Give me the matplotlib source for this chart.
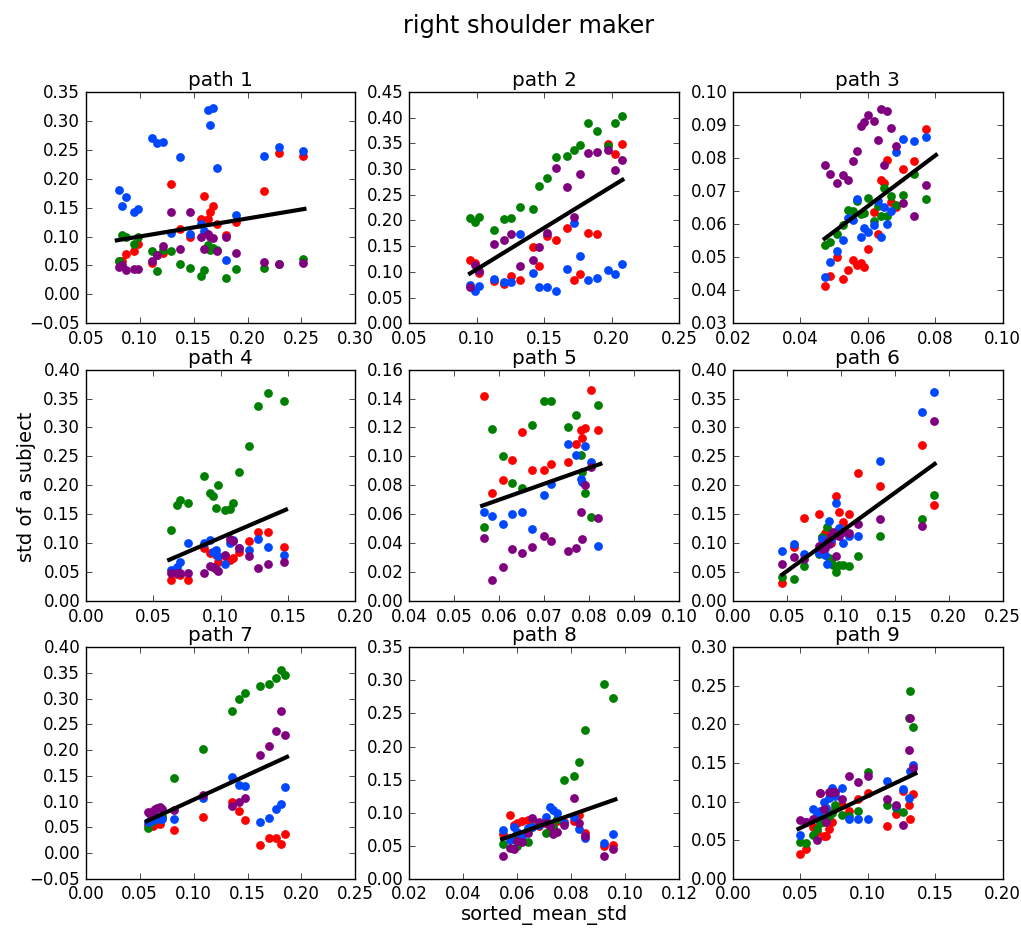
import numpy as np
import matplotlib
matplotlib.use("Agg")
import matplotlib.pyplot as plt

plt.style.use("classic")

# colours of the four series
c_red = "#ff0000"
c_green = "#008000"
c_blue = "#0048ff"
c_purple = "#800080"

# ---- path 1
p1_x = [0.0806, 0.084, 0.0877, 0.0946, 0.0986, 0.111, 0.116, 0.122, 0.129, 0.137, 0.147,
        0.157, 0.160, 0.163, 0.165, 0.168, 0.1716, 0.1796, 0.1895, 0.215, 0.229, 0.2517]
p1_blue = [0.181, 0.153, 0.169, 0.143, 0.148, 0.271, 0.261, 0.264, 0.106, 0.237, 0.104,
           0.122, 0.109, 0.319, 0.293, 0.323, 0.219, 0.060, 0.138, 0.239, 0.255, 0.248]
p1_red = [0.058, 0.057, 0.069, 0.075, 0.087, 0.054, 0.068, 0.072, 0.190, 0.113, 0.099,
          0.131, 0.170, 0.130, 0.143, 0.152, 0.121, 0.102, 0.125, 0.178, 0.244, 0.240]
p1_green = [0.058, 0.103, 0.100, 0.087, 0.100, 0.075, 0.040, 0.076, 0.075, 0.052, 0.046,
            0.032, 0.042, 0.085, 0.077, 0.081, 0.077, 0.028, 0.044, 0.046, 0.052, 0.062]
p1_purple = [0.047, 0.051, 0.043, 0.044, 0.044, 0.058, 0.068, 0.084, 0.143, 0.079, 0.143,
             0.100, 0.078, 0.104, 0.100, 0.097, 0.075, 0.100, 0.072, 0.056, 0.052, 0.054]
p1_fit_x = [0.0788, 0.2527]
p1_fit_y = [0.0935, 0.1477]

# ---- path 2
p2_x = [0.095, 0.0985, 0.1015, 0.1126, 0.1205, 0.1255, 0.1317, 0.1416, 0.146, 0.152,
        0.159, 0.1666, 0.1718, 0.1765, 0.1824, 0.189, 0.1975, 0.2027, 0.2074]
p2_blue = [0.075, 0.063, 0.072, 0.086, 0.081, 0.081, 0.174, 0.097, 0.070, 0.071,
           0.063, 0.106, 0.195, 0.130, 0.084, 0.089, 0.103, 0.096, 0.115]
p2_red = [0.124, 0.117, 0.098, 0.082, 0.077, 0.093, 0.084, 0.149, 0.112, 0.170,
          0.162, 0.185, 0.085, 0.095, 0.175, 0.173, 0.348, 0.329, 0.349]
p2_green = [0.205, 0.197, 0.206, 0.182, 0.202, 0.204, 0.226, 0.223, 0.267, 0.282,
            0.324, 0.326, 0.338, 0.346, 0.390, 0.374, 0.345, 0.390, 0.403]
p2_purple = [0.070, 0.113, 0.101, 0.154, 0.162, 0.173, 0.111, 0.124, 0.148, 0.176,
             0.302, 0.265, 0.206, 0.290, 0.331, 0.333, 0.337, 0.299, 0.317]
p2_fit_x = [0.095, 0.208]
p2_fit_y = [0.097, 0.279]

# ---- path 3
p3_x = [0.0474, 0.0488, 0.0508, 0.0525, 0.0541, 0.0557, 0.0567, 0.0581, 0.0590, 0.0601,
        0.0618, 0.0629, 0.0638, 0.0648, 0.0657, 0.0670, 0.0684, 0.0704, 0.0738, 0.0773]
p3_blue = [0.0439, 0.0486, 0.0520, 0.0551, 0.0619, 0.0613, 0.0676, 0.0562, 0.0589, 0.0577,
           0.0597, 0.0671, 0.0561, 0.0652, 0.0599, 0.0640, 0.0819, 0.0857, 0.0851, 0.0864]
p3_red = [0.0413, 0.0444, 0.0502, 0.0435, 0.0461, 0.0493, 0.0475, 0.0483, 0.0469, 0.0524,
          0.0637, 0.0569, 0.0734, 0.0723, 0.0795, 0.0668, 0.0652, 0.0768, 0.0791, 0.0888]
p3_green = [0.0537, 0.0547, 0.0570, 0.0596, 0.0642, 0.0639, 0.0671, 0.0632, 0.0635, 0.0680,
            0.0610, 0.0655, 0.0624, 0.0708, 0.0624, 0.0685, 0.0657, 0.0688, 0.0752, 0.0676]
p3_purple = [0.0778, 0.0751, 0.0724, 0.0749, 0.0735, 0.0790, 0.0821, 0.0897, 0.0909, 0.0930,
             0.0912, 0.0854, 0.0948, 0.0780, 0.0942, 0.0892, 0.0836, 0.0665, 0.0626, 0.0717]
p3_fit_x = [0.0472, 0.0802]
p3_fit_y = [0.0556, 0.0809]

# ---- path 4
p4_x = [0.0632, 0.0674, 0.0701, 0.0758, 0.0877, 0.0924, 0.0944, 0.0967, 0.0979, 0.1029,
        0.1073, 0.1091, 0.1135, 0.121, 0.128, 0.1354, 0.1473]
p4_blue = [0.053, 0.059, 0.067, 0.101, 0.100, 0.105, 0.084, 0.089, 0.077, 0.064,
           0.100, 0.106, 0.092, 0.089, 0.107, 0.093, 0.079]
p4_red = [0.036, 0.046, 0.045, 0.036, 0.092, 0.083, 0.085, 0.080, 0.067, 0.077,
          0.071, 0.075, 0.085, 0.104, 0.120, 0.120, 0.093]
p4_green = [0.1235, 0.166, 0.174, 0.169, 0.216, 0.186, 0.181, 0.161, 0.200, 0.157,
            0.159, 0.169, 0.223, 0.268, 0.337, 0.359, 0.345]
p4_purple = [0.048, 0.048, 0.048, 0.049, 0.049, 0.061, 0.058, 0.055, 0.052, 0.080,
             0.107, 0.104, 0.092, 0.077, 0.057, 0.064, 0.067]
p4_fit_x = [0.0619, 0.1485]
p4_fit_y = [0.0713, 0.158]

# ---- path 5
p5_x = [0.0565, 0.0583, 0.0609, 0.0629, 0.0650, 0.0673, 0.0700, 0.0716, 0.0753, 0.0771,
        0.0781, 0.0785, 0.0791, 0.0805, 0.0820]
p5_blue = [0.0613, 0.0587, 0.053, 0.0603, 0.0615, 0.0497, 0.0733, 0.081, 0.1087, 0.101,
           0.0844, 0.082, 0.1075, 0.096, 0.038]
p5_red = [0.1415, 0.0745, 0.0835, 0.0973, 0.117, 0.0906, 0.0906, 0.0948, 0.096, 0.1087,
          0.118, 0.113, 0.1195, 0.146, 0.118]
p5_green = [0.0513, 0.119, 0.100, 0.0816, 0.078, 0.122, 0.1385, 0.1385, 0.120, 0.1285,
            0.1008, 0.0895, 0.075, 0.0583, 0.1353]
p5_purple = [0.0439, 0.0143, 0.0238, 0.0363, 0.0333, 0.0372, 0.0449, 0.0418, 0.0345, 0.0368,
             0.0617, 0.0428, 0.080, 0.093, 0.0576]
p5_fit_x = [0.0562, 0.0825]
p5_fit_y = [0.0659, 0.0948]

# ---- path 6
p6_x = [0.0458, 0.0569, 0.0655, 0.0794, 0.0830, 0.0850, 0.0870, 0.0890, 0.0910, 0.0930,
        0.0957, 0.0985, 0.1018, 0.1077, 0.1157, 0.136, 0.1754, 0.1865]
p6_blue = [0.086, 0.099, 0.082, 0.083, 0.107, 0.080, 0.064, 0.138, 0.105, 0.118,
           0.169, 0.127, 0.101, 0.112, 0.112, 0.242, 0.327, 0.362]
p6_red = [0.032, 0.094, 0.144, 0.150, 0.110, 0.117, 0.121, 0.105, 0.100, 0.112,
          0.182, 0.154, 0.137, 0.151, 0.221, 0.199, 0.269, 0.166]
p6_green = [0.041, 0.038, 0.060, 0.081, 0.110, 0.095, 0.128, 0.075, 0.070, 0.062,
            0.051, 0.063, 0.063, 0.061, 0.077, 0.113, 0.141, 0.184]
p6_purple = [0.064, 0.076, 0.072, 0.095, 0.090, 0.092, 0.102, 0.098, 0.112, 0.120,
             0.078, 0.112, 0.120, 0.118, 0.133, 0.141, 0.129, 0.311]
p6_fit_x = [0.0458, 0.187]
p6_fit_y = [0.046, 0.237]

# ---- path 7
p7_x = [0.0575, 0.0600, 0.0622, 0.0644, 0.0665, 0.0684, 0.0709, 0.0817, 0.1083, 0.1352,
        0.1417, 0.1479, 0.1618, 0.170, 0.1767, 0.1813, 0.185]
p7_blue = [0.060, 0.062, 0.064, 0.068, 0.070, 0.066, 0.066, 0.067, 0.1075, 0.148,
           0.1315, 0.1295, 0.060, 0.069, 0.0855, 0.095, 0.129]
p7_red = [0.055, 0.058, 0.052, 0.056, 0.060, 0.057, 0.070, 0.044, 0.071, 0.099,
          0.082, 0.064, 0.0155, 0.030, 0.030, 0.017, 0.0376]
p7_green = [0.049, 0.060, 0.062, 0.066, 0.068, 0.070, 0.072, 0.145, 0.202, 0.276,
            0.300, 0.312, 0.324, 0.328, 0.340, 0.356, 0.346]
p7_purple = [0.080, 0.076, 0.082, 0.085, 0.088, 0.089, 0.085, 0.084, 0.113, 0.091,
             0.100, 0.108, 0.190, 0.209, 0.238, 0.276, 0.229]
p7_fit_x = [0.0566, 0.1866]
p7_fit_y = [0.062, 0.187]

# ---- path 8
p8_x = [0.0549, 0.0574, 0.0587, 0.0600, 0.0618, 0.0639, 0.0655, 0.0680, 0.0706, 0.0720,
        0.0733, 0.0747, 0.0775, 0.0809, 0.0830, 0.0853, 0.0923, 0.0957]
p8_blue = [0.073, 0.059, 0.078, 0.070, 0.064, 0.077, 0.079, 0.082, 0.093, 0.108,
           0.104, 0.099, 0.084, 0.094, 0.076, 0.061, 0.054, 0.067]
p8_red = [0.067, 0.096, 0.081, 0.084, 0.087, 0.089, 0.091, 0.080, 0.084, 0.076,
          0.075, 0.087, 0.086, 0.087, 0.096, 0.069, 0.050, 0.051]
p8_green = [0.052, 0.062, 0.060, 0.050, 0.058, 0.055, 0.078, 0.084, 0.069, 0.082,
            0.079, 0.090, 0.150, 0.156, 0.177, 0.2245, 0.294, 0.273]
p8_purple = [0.035, 0.046, 0.045, 0.057, 0.055, 0.069, 0.092, 0.086, 0.085, 0.080,
             0.067, 0.071, 0.082, 0.122, 0.084, 0.064, 0.035, 0.045]
p8_fit_x = [0.0544, 0.0964]
p8_fit_y = [0.060, 0.120]

# ---- path 9
p9_x = [0.0499, 0.0541, 0.0593, 0.0627, 0.0642, 0.0677, 0.0689, 0.0714, 0.0733, 0.0758,
        0.0812, 0.0859, 0.0928, 0.1000, 0.1146, 0.1207, 0.1259, 0.1304, 0.1316, 0.1338]
p9_blue = [0.0565, 0.073, 0.090, 0.084, 0.088, 0.099, 0.092, 0.105, 0.118, 0.107,
           0.118, 0.078, 0.078, 0.077, 0.127, 0.094, 0.117, 0.105, 0.140, 0.148]
p9_red = [0.032, 0.039, 0.067, 0.061, 0.111, 0.055, 0.055, 0.065, 0.073, 0.092,
          0.096, 0.088, 0.103, 0.111, 0.069, 0.084, 0.114, 0.096, 0.078, 0.110]
p9_green = [0.048, 0.047, 0.057, 0.065, 0.072, 0.073, 0.075, 0.082, 0.085, 0.096,
            0.083, 0.082, 0.088, 0.138, 0.096, 0.092, 0.087, 0.208, 0.243, 0.197]
p9_purple = [0.076, 0.073, 0.078, 0.050, 0.111, 0.091, 0.073, 0.113, 0.112, 0.112,
             0.104, 0.133, 0.125, 0.133, 0.103, 0.096, 0.070, 0.167, 0.208, 0.144]
p9_fit_x = [0.0486, 0.1353]
p9_fit_y = [0.0647, 0.1364]

# axis ranges as shown
x_limits = [(0.05, 0.30), (0.05, 0.25), (0.02, 0.10),
            (0.00, 0.20), (0.04, 0.10), (0.00, 0.25),
            (0.00, 0.25), (0.02, 0.12), (0.00, 0.20)]
x_steps = [0.05, 0.05, 0.02, 0.05, 0.01, 0.05, 0.05, 0.02, 0.05]
y_limits = [(-0.05, 0.35), (0.00, 0.45), (0.03, 0.10),
            (0.00, 0.40), (0.00, 0.16), (0.00, 0.40),
            (-0.05, 0.40), (0.00, 0.35), (0.00, 0.30)]
y_steps = [0.05, 0.05, 0.01, 0.05, 0.02, 0.05, 0.05, 0.05, 0.05]

panels = [
    (p1_x, p1_red, p1_green, p1_blue, p1_purple, p1_fit_x, p1_fit_y),
    (p2_x, p2_red, p2_green, p2_blue, p2_purple, p2_fit_x, p2_fit_y),
    (p3_x, p3_red, p3_green, p3_blue, p3_purple, p3_fit_x, p3_fit_y),
    (p4_x, p4_red, p4_green, p4_blue, p4_purple, p4_fit_x, p4_fit_y),
    (p5_x, p5_red, p5_green, p5_blue, p5_purple, p5_fit_x, p5_fit_y),
    (p6_x, p6_red, p6_green, p6_blue, p6_purple, p6_fit_x, p6_fit_y),
    (p7_x, p7_red, p7_green, p7_blue, p7_purple, p7_fit_x, p7_fit_y),
    (p8_x, p8_red, p8_green, p8_blue, p8_purple, p8_fit_x, p8_fit_y),
    (p9_x, p9_red, p9_green, p9_blue, p9_purple, p9_fit_x, p9_fit_y),
]

fig, axes = plt.subplots(3, 3, figsize=(10.21, 9.29), dpi=100, facecolor="white")
fig.subplots_adjust(left=0.084, right=0.982, bottom=0.053, top=0.9, wspace=0.2, hspace=0.2)

for i, ax in enumerate(axes.flat):
    x, yr, yg, yb, yp, fx, fy = panels[i]
    for ys, col in [(yr, c_red), (yg, c_green), (yb, c_blue), (yp, c_purple)]:
        ax.scatter(x, ys, s=40, c=col, linewidths=0)
    ax.plot(fx, fy, color="black", linewidth=3)

    x0, x1 = x_limits[i]
    y0, y1 = y_limits[i]
    ax.set_xlim(x0, x1)
    ax.set_ylim(y0, y1)
    ax.set_xticks(np.arange(x0, x1 + x_steps[i] / 2, x_steps[i]))
    ax.set_yticks(np.arange(y0, y1 + y_steps[i] / 2, y_steps[i]))
    ax.set_title("path %d" % (i + 1))

axes[1, 0].set_ylabel("std of a subject", fontsize=14)
axes[2, 1].set_xlabel("sorted_mean_std", fontsize=14, labelpad=1)
fig.suptitle("right shoulder maker", fontsize=17.28, x=0.518, y=0.985)

fig.savefig("out.png", dpi=100, facecolor="white")
